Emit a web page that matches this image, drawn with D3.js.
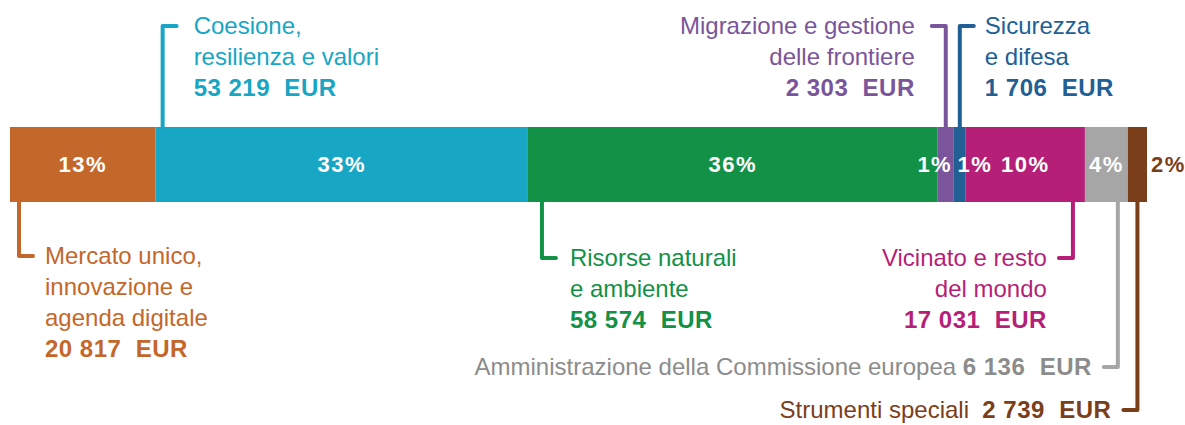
<!DOCTYPE html>
<html>
<head>
<meta charset="utf-8">
<script src="https://cdn.jsdelivr.net/npm/d3@7"></script>
<style>
  body { margin: 0; background: #fff; }
  svg { display: block; }
  text { font-family: "Liberation Sans", Arial, sans-serif; }
</style>
</head>
<body>
<div id="wrapper"></div>
<script>
// data
const categories = [
    "Mercato unico, innovazione e agenda digitale",
    "Coesione, resilienza e valori",
    "Risorse naturali e ambiente",
    "Migrazione e gestione delle frontiere",
    "Sicurezza e difesa",
    "Vicinato e resto del mondo",
    "Amministrazione della Commissione europea",
    "Strumenti speciali"
];
const labelLines = [
    ["Mercato unico,", "innovazione e", "agenda digitale"],
    ["Coesione,", "resilienza e valori"],
    ["Risorse naturali", "e ambiente"],
    ["Migrazione e gestione", "delle frontiere"],
    ["Sicurezza", "e difesa"],
    ["Vicinato e resto", "del mondo"],
    ["Amministrazione della Commissione europea"],
    ["Strumenti speciali"]
];
const amounts = [20817, 53219, 58574, 2303, 1706, 17031, 6136, 2739];
const percentLabels = ["13%", "33%", "36%", "1%", "1%", "10%", "4%", "2%"];
const colors = ["#C4672A", "#17A6C4", "#139147", "#7A559B", "#215F95", "#B61F78", "#A6A6A6", "#7A3E1B"];
const textColors = ["#C4672A", "#17A6C4", "#139147", "#7A559B", "#215F95", "#B61F78", "#8C8C8C", "#7A3E1B"];

// label placement (layout only)
const callouts = [
    { side: "bottom", ref: "start", off: 9, elbowY: 256, dir: 1, gap: 12 },
    { side: "top", ref: "start", off: 7, elbowY: 26, dir: 1, gap: 17 },
    { side: "bottom", ref: "start", off: 14, elbowY: 258, dir: 1, gap: 14 },
    { side: "top", ref: "mid", off: 0, elbowY: 26, dir: -1, gap: 17 },
    { side: "top", ref: "mid", off: 0, elbowY: 26, dir: 1, gap: 11 },
    { side: "bottom", ref: "end", off: 12, elbowY: 258, dir: -1, gap: 12 },
    { side: "bottom", ref: "end", off: 10, elbowY: 367, dir: -1, gap: 12, inline: true, sep: " " },
    { side: "bottom", ref: "mid", off: 0, elbowY: 410, dir: -1, gap: 12, inline: true, sep: "\u00a0\u00a0" }
];
const pctShift = [0, 0, 0, -11, 15, 0, 0, 0];

const dimension = {
    width: 1185,
    height: 425,
    barLeft: 10,
    barRight: 1147,
    barTop: 127,
    barHeight: 75
};

const fmt = v => d3.format(",")(v).replace(/,/g, "\u00a0") + "\u00a0\u00a0EUR";

const data = categories.map((c, i) => ({
    name: c,
    lines: labelLines[i],
    value: amounts[i],
    pct: percentLabels[i],
    color: colors[i],
    tcolor: textColors[i],
    co: callouts[i],
    shift: pctShift[i]
}));
let acc = 0;
data.forEach(d => { d.x0 = acc; acc += d.value; d.x1 = acc; });

const xScaler = d3.scaleLinear()
    .domain([0, acc])
    .range([dimension.barLeft, dimension.barRight]);

const svg = d3.select("#wrapper")
    .append("svg")
    .attr("width", dimension.width)
    .attr("height", dimension.height);

// bar segments
svg.append("g")
    .selectAll("rect")
    .data(data)
    .join("rect")
    .attr("x", d => xScaler(d.x0))
    .attr("y", dimension.barTop)
    .attr("width", d => xScaler(d.x1) - xScaler(d.x0))
    .attr("height", dimension.barHeight)
    .attr("fill", d => d.color);

// percentage labels
const barMid = dimension.barTop + dimension.barHeight / 2;
const last = data.length - 1;
svg.append("g")
    .selectAll("text")
    .data(data)
    .join("text")
    .attr("x", (d, i) => i === last
        ? xScaler(d.x1) + 4
        : (xScaler(d.x0) + xScaler(d.x1)) / 2 + d.shift)
    .attr("y", barMid)
    .attr("dy", "0.36em")
    .attr("text-anchor", (d, i) => i === last ? "start" : "middle")
    .attr("fill", (d, i) => i === last ? d.color : "#fff")
    .attr("font-size", "22px")
    .attr("font-weight", "bold")
    .attr("letter-spacing", "1.5px")
    .text(d => d.pct);

// callouts
const hLen = 14;
const lineH = 31;
const leaderX = d => {
    if (d.co.ref === "start") return xScaler(d.x0) + d.co.off;
    if (d.co.ref === "end") return xScaler(d.x1) - d.co.off;
    return (xScaler(d.x0) + xScaler(d.x1)) / 2;
};

const co = svg.append("g")
    .selectAll("g")
    .data(data)
    .join("g");

co.append("path")
    .attr("d", d => {
        const lx = leaderX(d);
        const y0 = d.co.side === "top" ? dimension.barTop : dimension.barTop + dimension.barHeight;
        return `M${lx},${y0}V${d.co.elbowY}H${lx + d.co.dir * hLen}`;
    })
    .attr("fill", "none")
    .attr("stroke", d => d.color)
    .attr("stroke-width", 4)
    .attr("stroke-linecap", "round")
    .attr("stroke-linejoin", "round");

co.each(function (d) {
    const g = d3.select(this);
    const tx = leaderX(d) + d.co.dir * (hLen + d.co.gap);
    const anchor = d.co.dir > 0 ? "start" : "end";
    const t = g.append("text")
        .attr("x", tx)
        .attr("y", d.co.elbowY)
        .attr("text-anchor", anchor)
        .attr("fill", d.tcolor)
        .attr("font-size", "24px");
    if (d.co.inline) {
        t.attr("dy", "0.35em");
        t.append("tspan").text(d.lines[0] + d.co.sep);
        t.append("tspan")
            .attr("font-weight", "bold")
            .attr("letter-spacing", "0.5px")
            .text(fmt(d.value));
    } else {
        d.lines.forEach((ln, k) => {
            t.append("tspan")
                .attr("x", tx)
                .attr("y", d.co.elbowY + k * lineH)
                .attr("dy", "0.35em")
                .text(ln);
        });
        t.append("tspan")
            .attr("x", tx)
            .attr("y", d.co.elbowY + d.lines.length * lineH)
            .attr("dy", "0.35em")
            .attr("font-weight", "bold")
            .attr("letter-spacing", "0.5px")
            .text(fmt(d.value));
    }
});
</script>
</body>
</html>
